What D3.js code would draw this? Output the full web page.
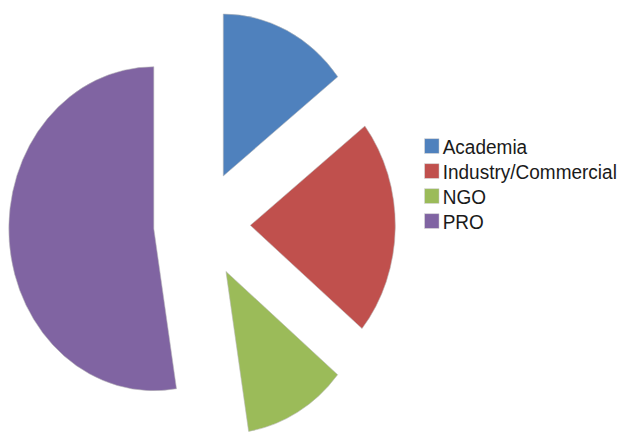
<!DOCTYPE html>
<html>
<head>
<meta charset="utf-8">
<script src="https://cdn.jsdelivr.net/npm/d3@7"></script>
<style>
  html, body { margin: 0; padding: 0; background: #fff; }
  svg { display: block; }
</style>
</head>
<body>
<div id="chart"></div>
<script>
// --- Data ---
const categories = ["Academia", "Industry/Commercial", "NGO", "PRO"];
const shares = [14.5, 21.5, 11.5, 52.5];
const colors = ["#4F81BD", "#C0504D", "#9BBB59", "#8064A2"];

// --- Layout ---
const WIDTH = 626, HEIGHT = 433;
const CX = 202, CY = 224.5;
const RADIUS = 162;
const X_SQUASH = 0.895; // the original is slightly compressed horizontally
const EXPLODE = 54;

const svg = d3.select("#chart").append("svg")
  .attr("width", WIDTH)
  .attr("height", HEIGHT);

const pie = d3.pie().sort(null).value(d => d);
const arc = d3.arc().innerRadius(0).outerRadius(RADIUS);
const arcs = pie(shares);

const pieGroup = svg.append("g")
  .attr("transform", `translate(${CX},${CY}) scale(${X_SQUASH},1)`);

pieGroup.selectAll("path")
  .data(arcs)
  .join("path")
  .attr("d", arc)
  .attr("fill", (d, i) => colors[i])
  .attr("stroke", "#b8b8b8")
  .attr("stroke-width", 0.6)
  .attr("transform", d => {
    const mid = (d.startAngle + d.endAngle) / 2;
    return `translate(${EXPLODE * Math.sin(mid)},${-EXPLODE * Math.cos(mid)})`;
  });

// --- Legend ---
const legend = svg.append("g").attr("transform", "translate(424.7,138.8)");
const ROW = 25;
const items = legend.selectAll("g")
  .data(categories)
  .join("g")
  .attr("transform", (d, i) => `translate(0,${i * ROW})`);

items.append("rect")
  .attr("width", 14.3)
  .attr("height", 14.5)
  .attr("fill", (d, i) => colors[i])
  .attr("stroke", "#c8c8c8")
  .attr("stroke-width", 0.5);

items.append("text")
  .attr("x", 0)
  .attr("y", 15.5)
  .attr("font-family", "'Liberation Sans', Arial, sans-serif")
  .attr("font-size", 21)
  .attr("fill", "#1a1a1a")
  .attr("transform", "translate(18,0) scale(0.905,1)")
  .text(d => d);
</script>
</body>
</html>
